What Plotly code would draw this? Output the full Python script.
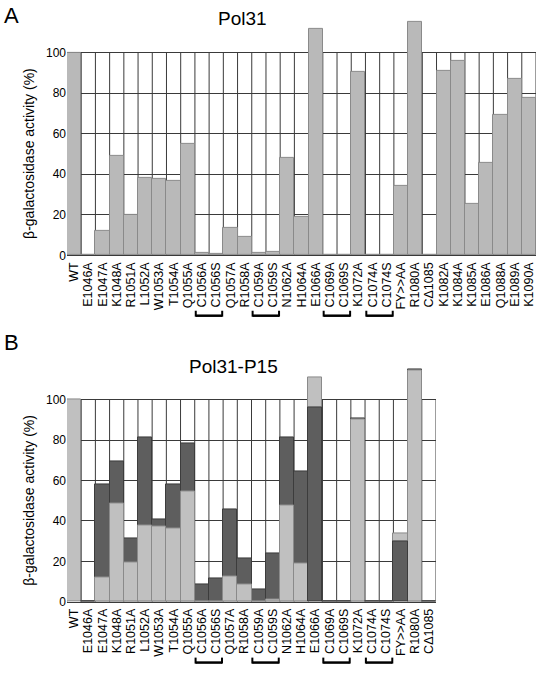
import plotly.graph_objects as go

# ---------------- data ----------------
categories_a = ["WT", "E1046A", "E1047A", "K1048A", "R1051A", "L1052A", "W1053A", "T1054A",
                "Q1055A", "C1056A", "C1056S", "Q1057A", "R1058A", "C1059A", "C1059S", "N1062A",
                "H1064A", "E1066A", "C1069A", "C1069S", "K1072A", "C1074A", "C1074S", "FY>>AA",
                "R1080A", "CΔ1085", "K1082A", "K1084A", "K1085A", "E1086A", "Q1088A", "E1089A",
                "K1090A"]
pol31_values = [100, 0.3, 12.2, 49, 20, 38.2, 37.6, 36.6, 54.8, 1, 0.5, 13.3, 8.9, 1, 1.6, 48,
                19.2, 111.4, 0, 0, 90.2, 0, 0, 34.1, 115, 0, 91, 95.8, 25.5, 45.5, 69, 86.8, 77.7]

categories_b = categories_a[:26]
pol31_b_values = [100, 0, 12, 48.5, 19.3, 38, 37.3, 36.3, 54.7, 0, 0, 12.6, 8.6, 0, 1.1, 47.8,
                  18.9, 111.3, 0, 0, 90.4, 0, 0, 33.9, 114.6, 0]
p15_values = [None, 0, 57.9, 69.7, 31.3, 81.4, 40.8, 58.2, 78.3, 8.5, 11.7, 45.7, 21.4, 6.2, 24,
              81.2, 64.3, 96.2, 0, 0, 91.0, 0, 0, 29.7, 115.2, 0]

bracket_pairs = [("C1056A", "C1056S"), ("C1059A", "C1059S"),
                 ("C1069A", "C1069S"), ("C1074A", "C1074S")]

y_ticks = [0, 20, 40, 60, 80, 100]
Y_TOP = 100     # top of the framed grid
Y_MAX = 120     # axis range top, leaves room for bars above 100 %

# ---------------- styling ----------------
W, H = 539, 676
FONT = "Liberation Sans, Arial, Helvetica, sans-serif"
GRID = "#3a3a3a"
LIGHT_A = "#b9b9b9"
LIGHT_B = "#c0c0c0"
DARK_B = "#5e5e5e"


def px_x(p):
    return p / W


def px_y(p):
    return 1 - p / H


fig = go.Figure()

# Panel A
fig.add_trace(go.Bar(x=categories_a, y=pol31_values, xaxis="x", yaxis="y",
                     marker=dict(color=LIGHT_A, line=dict(color="#8a8a8a", width=1)),
                     showlegend=False))

# Panel B : larger value drawn behind, smaller in front
light_back, dark_back, light_front, dark_front = [], [], [], []
for lv, dv in zip(pol31_b_values, p15_values):
    d = dv if dv is not None else -1
    if lv >= d:
        light_back.append(lv); dark_front.append(dv)
        dark_back.append(None); light_front.append(None)
    else:
        dark_back.append(dv); light_front.append(lv)
        light_back.append(None); dark_front.append(None)

for vals, col, lc in [(light_back, LIGHT_B, "#8a8a8a"), (dark_back, DARK_B, "#3c3c3c"),
                      (light_front, LIGHT_B, "#8a8a8a"), (dark_front, DARK_B, "#3c3c3c")]:
    fig.add_trace(go.Bar(x=categories_b, y=vals, xaxis="x2", yaxis="y2",
                         marker=dict(color=col, line=dict(color=lc, width=1)),
                         showlegend=False))


def xaxis_cfg(cats, dom, anchor):
    return dict(type="category", tickmode="array", tickvals=cats, ticktext=cats,
                range=[-0.5, len(cats) - 0.5], showgrid=False, showline=True,
                linecolor=GRID, linewidth=1, ticks="", tickangle=-90,
                ticklabelstandoff=1,
                tickfont=dict(family=FONT, size=12.5, color="black"),
                zeroline=False, fixedrange=True, domain=dom, anchor=anchor)


def yaxis_cfg(dom, anchor):
    return dict(range=[0, Y_MAX], tickvals=y_ticks, showgrid=True, gridcolor=GRID,
                gridwidth=1, showline=False, ticks="",
                tickfont=dict(family=FONT, size=12, color="black"), zeroline=False,
                fixedrange=True, domain=dom, anchor=anchor)


# 100 % spans ~205 px in both panels
a_bot, a_top100 = 258, 53
b_bot, b_top100 = 608, 404
a_top = a_bot - (a_bot - a_top100) * Y_MAX / Y_TOP
b_top = b_bot - (b_bot - b_top100) * Y_MAX / Y_TOP

fig.update_layout(
    width=W, height=H, margin=dict(l=0, r=0, t=0, b=0),
    paper_bgcolor="white", plot_bgcolor="rgba(0,0,0,0)", barmode="overlay", bargap=0,
    font=dict(family=FONT, color="black"),
    xaxis=xaxis_cfg(categories_a, [px_x(67), px_x(536)], "y"),
    yaxis=yaxis_cfg([px_y(a_bot), px_y(a_top)], "x"),
    xaxis2=xaxis_cfg(categories_b, [px_x(67), px_x(436)], "y2"),
    yaxis2=yaxis_cfg([px_y(b_bot), px_y(b_top)], "x2"),
)

ann = [
    dict(text="A", x=px_x(11), y=px_y(16), font=dict(size=22)),
    dict(text="B", x=px_x(11.5), y=px_y(346), font=dict(size=22)),
    dict(text="Pol31", x=px_x(242), y=px_y(18.5), font=dict(size=19)),
    dict(text="Pol31-P15", x=px_x(233), y=px_y(370), font=dict(size=19)),
    dict(text="β-galactosidase activity (%)", x=px_x(29), y=px_y(155.5), textangle=-90,
         font=dict(size=14)),
    dict(text="β-galactosidase activity (%)", x=px_x(29), y=px_y(506), textangle=-90,
         font=dict(size=14)),
]
for a in ann:
    a.update(xref="paper", yref="paper", showarrow=False, xanchor="center", yanchor="middle")
fig.update_layout(annotations=ann)

shapes = []
# category boundary lines (0-100 %) behind the bars, plus frame sides
for xa, ya, cats in [("x", "y", categories_a), ("x2", "y2", categories_b)]:
    for k in range(len(cats) + 1):
        shapes.append(dict(type="line", xref=xa, yref=ya, x0=k - 0.5, x1=k - 0.5,
                           y0=0, y1=Y_TOP, layer="below",
                           line=dict(color=GRID, width=1)))

# Brackets under paired cysteine mutants
for xa, cats, yline in [("x", categories_a, 319), ("x2", categories_b, 669.5)]:
    for c1, c2 in bracket_pairs:
        if c1 in cats and c2 in cats:
            i0 = cats.index(c1) - 0.44
            i1 = cats.index(c2) + 0.42
            shapes.append(dict(type="line", xref=xa, yref="paper", x0=i0, x1=i1,
                               y0=px_y(yline), y1=px_y(yline),
                               line=dict(color="black", width=2.5)))
            for xx in (i0, i1):
                shapes.append(dict(type="line", xref=xa, yref="paper", x0=xx, x1=xx,
                                   y0=px_y(yline + 1), y1=px_y(yline - 5),
                                   line=dict(color="black", width=2)))
fig.update_layout(shapes=shapes)

fig.write_html("out.html", config={"displayModeBar": False},
               post_script="document.body.style.margin='0';document.body.style.overflow='hidden';")
